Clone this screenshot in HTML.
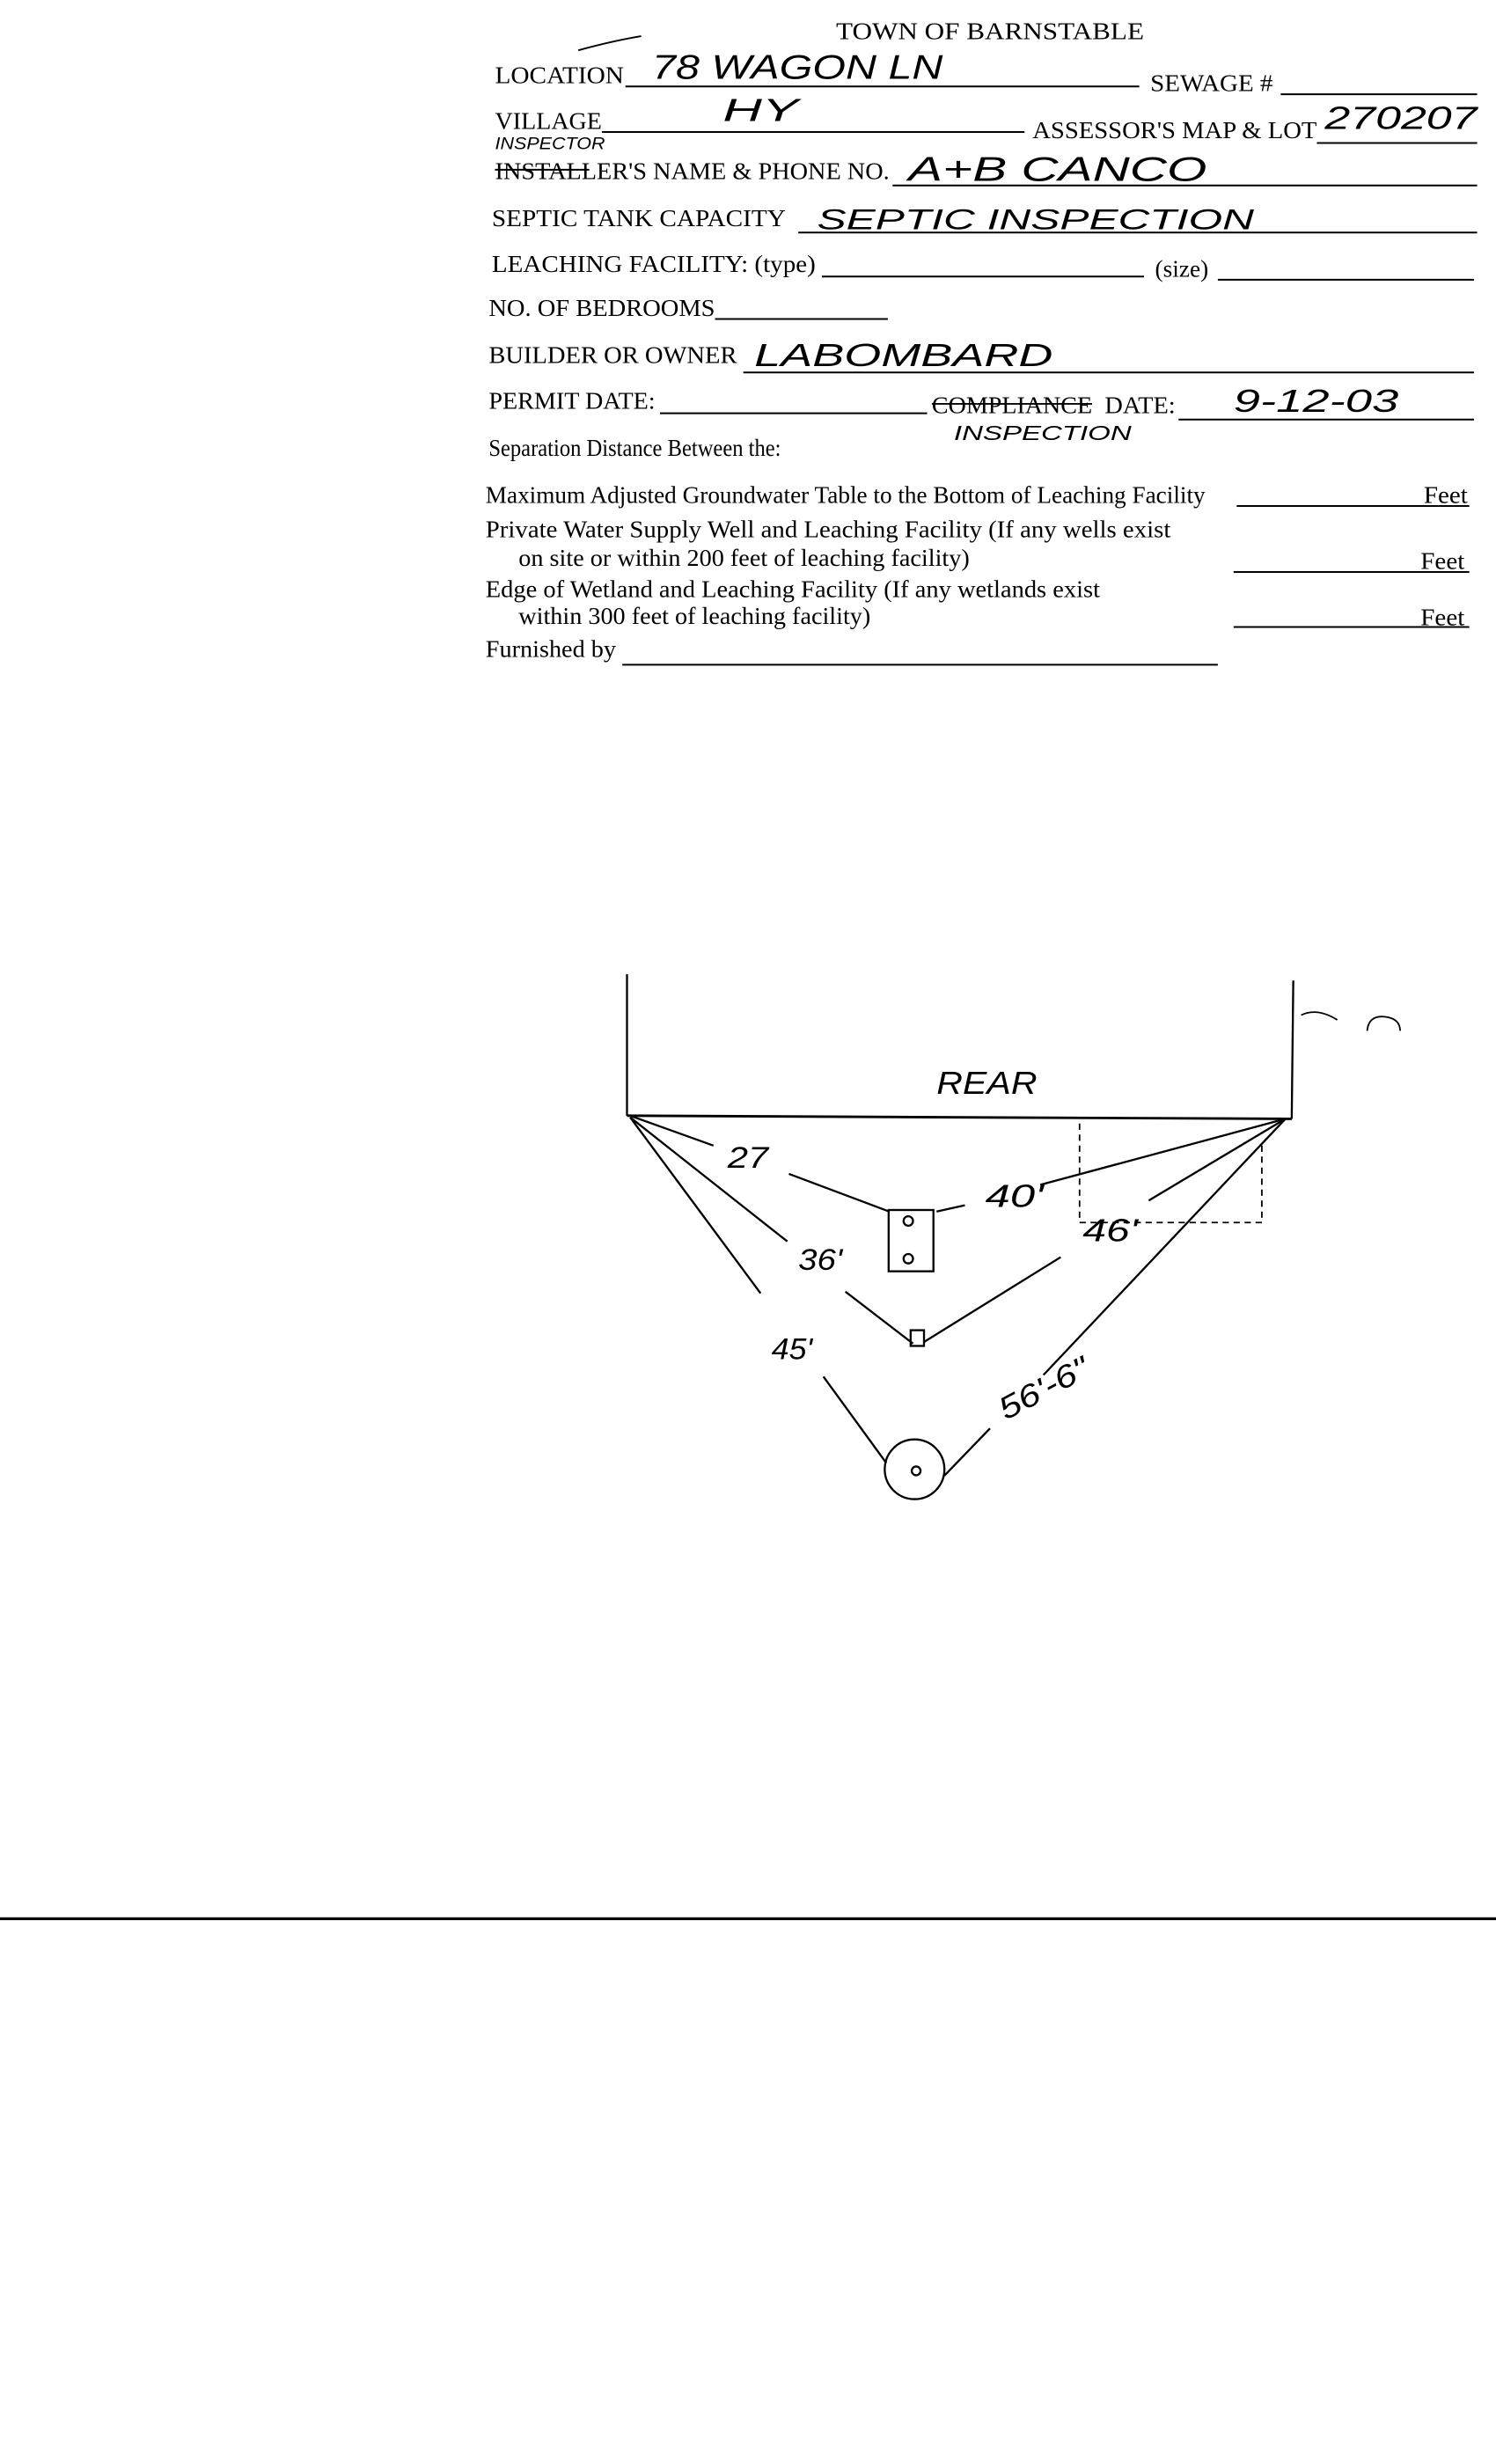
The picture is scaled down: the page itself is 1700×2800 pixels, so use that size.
<!DOCTYPE html>
<html><head><meta charset="utf-8"><style>
html,body{margin:0;padding:0;background:#fff;}
svg{display:block;}
.t{font-family:"Liberation Serif",serif;font-size:15.5px;fill:#000;}
.h{font-family:"Liberation Sans",sans-serif;fill:#000;font-style:italic;font-weight:300;}
</style></head><body>
<svg width="1700" height="2800" viewBox="0 0 952 1568" xmlns="http://www.w3.org/2000/svg">
<rect width="952" height="1568" fill="#fff"/>
<g stroke="#000" stroke-width="1.1" fill="none">
<path d="M368 32 Q390 26 408 23"/>
<line x1="398" y1="55" x2="725" y2="55"/>
<line x1="815" y1="60" x2="940" y2="60"/>
<line x1="383" y1="84" x2="652" y2="84"/>
<line x1="838" y1="91" x2="940" y2="91"/>
<line x1="568" y1="118" x2="940" y2="118"/>
<line x1="508" y1="148" x2="940" y2="148"/>
<line x1="523" y1="176" x2="728" y2="176"/>
<line x1="775" y1="178" x2="938" y2="178"/>
<line x1="455" y1="203" x2="565" y2="203"/>
<line x1="473" y1="237" x2="938" y2="237"/>
<line x1="420" y1="263" x2="590" y2="263"/>
<line x1="750" y1="267" x2="938" y2="267"/>
<line x1="787" y1="322" x2="935" y2="322"/>
<line x1="785" y1="364" x2="935" y2="364"/>
<line x1="785" y1="399" x2="935" y2="399"/>
<line x1="396" y1="423" x2="775" y2="423"/>
<line x1="315" y1="108" x2="375" y2="108"/>
<line x1="593" y1="257" x2="695" y2="257"/>
<line x1="0" y1="1221" x2="952" y2="1221" stroke-width="1.8"/>
</g>
<text class="t" x="532" y="25" textLength="196" lengthAdjust="spacingAndGlyphs">TOWN OF BARNSTABLE</text>
<text class="t" x="315" y="53" textLength="82" lengthAdjust="spacingAndGlyphs">LOCATION</text>
<text class="t" x="732" y="58" textLength="78" lengthAdjust="spacingAndGlyphs">SEWAGE #</text>
<text class="t" x="315" y="82" textLength="68" lengthAdjust="spacingAndGlyphs">VILLAGE</text>
<text class="t" x="657" y="88" textLength="181" lengthAdjust="spacingAndGlyphs">ASSESSOR'S MAP &amp; LOT</text>
<text class="t" x="315" y="114" textLength="251" lengthAdjust="spacingAndGlyphs">INSTALLER'S NAME &amp; PHONE NO.</text>
<text class="t" x="313" y="144" textLength="187" lengthAdjust="spacingAndGlyphs">SEPTIC TANK CAPACITY</text>
<text class="t" x="313" y="173" textLength="206" lengthAdjust="spacingAndGlyphs">LEACHING FACILITY: (type)</text>
<text class="t" x="735" y="176" textLength="34" lengthAdjust="spacingAndGlyphs">(size)</text>
<text class="t" x="311" y="201" textLength="144" lengthAdjust="spacingAndGlyphs">NO. OF BEDROOMS</text>
<text class="t" x="311" y="231" textLength="158" lengthAdjust="spacingAndGlyphs">BUILDER OR OWNER</text>
<text class="t" x="311" y="260" textLength="106" lengthAdjust="spacingAndGlyphs">PERMIT DATE:</text>
<text class="t" x="593" y="263" textLength="102" lengthAdjust="spacingAndGlyphs">COMPLIANCE</text>
<text class="t" x="703" y="263" textLength="45" lengthAdjust="spacingAndGlyphs">DATE:</text>
<text class="t" x="311" y="290" textLength="186" lengthAdjust="spacingAndGlyphs">Separation Distance Between the:</text>
<text class="t" x="309" y="320" textLength="458" lengthAdjust="spacingAndGlyphs">Maximum Adjusted Groundwater Table to the Bottom of Leaching Facility</text>
<text class="t" x="906" y="320" textLength="28" lengthAdjust="spacingAndGlyphs">Feet</text>
<text class="t" x="309" y="342" textLength="436" lengthAdjust="spacingAndGlyphs">Private Water Supply Well and Leaching Facility  (If any wells exist</text>
<text class="t" x="330" y="360" textLength="287" lengthAdjust="spacingAndGlyphs">on site or within 200 feet of leaching facility)</text>
<text class="t" x="904" y="362" textLength="28" lengthAdjust="spacingAndGlyphs">Feet</text>
<text class="t" x="309" y="380" textLength="391" lengthAdjust="spacingAndGlyphs">Edge of Wetland and Leaching Facility (If any wetlands exist</text>
<text class="t" x="330" y="397" textLength="224" lengthAdjust="spacingAndGlyphs">within 300 feet of leaching facility)</text>
<text class="t" x="904" y="398" textLength="28" lengthAdjust="spacingAndGlyphs">Feet</text>
<text class="t" x="309" y="418" textLength="83" lengthAdjust="spacingAndGlyphs">Furnished by</text>
<!-- handwriting -->
<text class="h" x="415" y="50" font-size="22" textLength="185" lengthAdjust="spacingAndGlyphs">78 WAGON LN</text>
<text class="h" x="460" y="77" font-size="20" textLength="48" lengthAdjust="spacingAndGlyphs">HY</text>
<text class="h" x="843" y="82" font-size="20" textLength="97" lengthAdjust="spacingAndGlyphs">270207</text>
<text class="h" x="315" y="95" font-size="11" textLength="70" lengthAdjust="spacingAndGlyphs">INSPECTOR</text>
<text class="h" x="578" y="115" font-size="22" textLength="190" lengthAdjust="spacingAndGlyphs">A+B CANCO</text>
<text class="h" x="520" y="146" font-size="18" textLength="278" lengthAdjust="spacingAndGlyphs">SEPTIC INSPECTION</text>
<text class="h" x="480" y="233" font-size="20" textLength="190" lengthAdjust="spacingAndGlyphs">LABOMBARD</text>
<text class="h" x="785" y="262" font-size="20" textLength="105" lengthAdjust="spacingAndGlyphs">9-12-03</text>
<text class="h" x="607" y="280" font-size="13" textLength="113" lengthAdjust="spacingAndGlyphs">INSPECTION</text>
<!-- diagram -->
<g stroke="#000" stroke-width="1.3" fill="none">
<line x1="399" y1="620" x2="399" y2="710"/>
<line x1="823" y1="624" x2="822" y2="712"/>
<line x1="399" y1="710" x2="822" y2="712" stroke-width="1.6"/>
<line x1="401" y1="710" x2="454" y2="729"/>
<line x1="502" y1="747" x2="566" y2="771"/>
<rect x="565.5" y="770" width="28.5" height="39"/>
<circle cx="578" cy="777" r="3"/>
<circle cx="578" cy="801" r="3"/>
<line x1="596" y1="771" x2="614" y2="767"/>
<line x1="662" y1="754" x2="818" y2="712"/>
<path d="M687 715 V778 H803 V727" stroke-dasharray="4,3" stroke-width="1"/>
<line x1="731" y1="764" x2="818" y2="712"/>
<line x1="401" y1="711" x2="501" y2="790"/>
<line x1="401" y1="711" x2="484" y2="823"/>
<line x1="538" y1="822" x2="581" y2="855"/>
<rect x="579.5" y="846.5" width="8.5" height="10"/>
<line x1="588" y1="854" x2="675" y2="800"/>
<line x1="524" y1="876" x2="564" y2="931"/>
<circle cx="582" cy="935" r="19"/>
<circle cx="583" cy="936" r="2.8"/>
<line x1="601" y1="939" x2="630" y2="909"/>
<line x1="818" y1="712" x2="664" y2="875"/>
<path d="M828 646 Q838 641 851 649" stroke-width="1"/>
<path d="M870 656 Q871 646 881 647 Q891 648 891 656" stroke-width="1"/>
</g>
<text class="h" x="596" y="696" font-size="20" textLength="64" lengthAdjust="spacingAndGlyphs">REAR</text>
<text class="h" x="463" y="743" font-size="19" textLength="26" lengthAdjust="spacingAndGlyphs">27</text>
<text class="h" x="627" y="768" font-size="20" textLength="37" lengthAdjust="spacingAndGlyphs">40'</text>
<text class="h" x="689" y="790" font-size="20" textLength="35" lengthAdjust="spacingAndGlyphs">46'</text>
<text class="h" x="508" y="808" font-size="19" textLength="28" lengthAdjust="spacingAndGlyphs">36'</text>
<text class="h" x="491" y="865" font-size="19" textLength="26" lengthAdjust="spacingAndGlyphs">45'</text>
<text class="h" x="640" y="904" font-size="20" textLength="62" lengthAdjust="spacingAndGlyphs" transform="rotate(-28 640 904)">56'-6"</text>
</svg>
</body></html>
